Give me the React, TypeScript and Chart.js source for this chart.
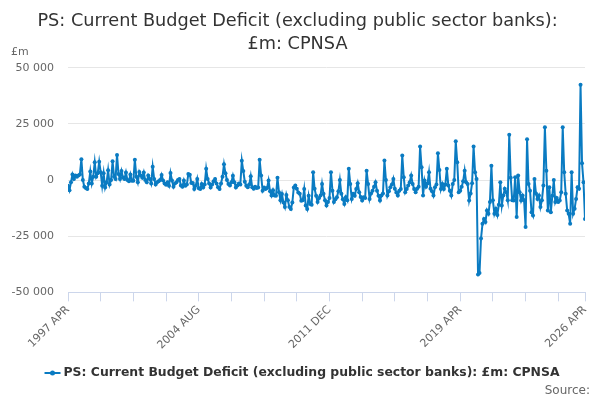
import React, { useEffect, useRef } from 'react';
import { Chart, registerables } from 'chart.js';

Chart.register(...registerables);

// Monthly values (£m), fiscal years April..March
const fy1997 = [-2500, -4500, -1000, 2500, 500, 2000, 1500, 2000, 2500, 9300, 0, -3000];
const fy1998 = [-3500, -4000, -1500, 3800, -1500, 1500, 7900, 1500, 3000, 8200, 3500, -2500];
const fy1999 = [3000, -3300, -1000, 4400, -2000, 0, 8400, 1500, 500, 11200, 2700, 500];
const fy2000 = [4000, 1200, 500, 3400, 0, -500, 2500, -300, -300, 9100, 1500, -1000];
const fy2001 = [3600, 2000, 1000, 3400, 0, -1000, 2000, 500, -1500, 5900, 500, -2000];
const fy2002 = [-1000, -500, 0, 2300, -200, -1500, -2100, -1000, -2500, 3100, -200, -3000];
const fy2003 = [-1500, -1000, 0, 500, -2400, -3000, -200, -2500, -2000, 2700, 2400, -1300];
const fy2004 = [-1300, -4000, -2500, 500, -3600, -4000, -1700, -3300, -2000, 5000, 500, -1500];
const fy2005 = [-3300, -2000, -500, 500, -1500, -3200, -4000, -1500, 1500, 7000, 3000, 0];
const fy2006 = [-1800, -2400, -1000, 1900, -1000, -3300, -2400, -1500, -2000, 8600, 4000, -700];
const fy2007 = [-2500, -3200, -2000, 1700, -3200, -3900, -3000, -3500, -3300, 9100, 2000, -4700];
const fy2008 = [-3300, -4000, -3500, -200, -5000, -6900, -4500, -6900, -7000, 1000, -5400, -9000];
const fy2009 = [-6200, -10000, -12000, -6600, -9000, -12000, -12900, -10000, -3300, -2400, -3900, -5500];
const fy2010 = [-6100, -9200, -9000, -4000, -11300, -12900, -7000, -10600, -11000, 3500, -3900, -7000];
const fy2011 = [-9800, -8000, -6900, -1700, -6100, -9000, -11300, -9800, -8000, 3500, -4700, -9800];
const fy2012 = [-8500, -7600, -5000, 0, -6100, -8500, -10600, -7600, -9000, 5000, -1700, -8400];
const fy2013 = [-6100, -7000, -4000, -1400, -5400, -7500, -9100, -7600, -8000, 4200, -1700, -8400];
const fy2014 = [-6000, -4700, -3000, -1000, -4700, -7000, -9100, -6900, -6000, 8700, 0, -6900];
const fy2015 = [-5000, -3200, -2000, 500, -3900, -5500, -6900, -4700, -4000, 10900, 1300, -5400];
const fy2016 = [-4000, -2400, -1000, 2000, -1700, -4000, -5400, -3900, -3000, 14900, 5700, -6900];
const fy2017 = [-200, -3000, -1500, 3500, -3900, -5000, -6900, -3200, -2000, 11900, 4500, -4000];
const fy2018 = [-1700, -4000, -2000, 5000, -2400, -4700, -6900, -1700, 0, 17300, 7900, -5400];
const fy2019 = [-4700, -3000, -500, 4200, -1000, -1700, -9100, -6000, -1400, 14900, 3500, 500];
const fy2020 = [-42000, -41400, -26000, -19500, -17300, -18700, -13600, -15000, -9800, 6400, -9000, -15000];
const fy2021 = [-12800, -15500, -11000, -1000, -11300, -6900, -3900, -5400, -9000, 20200, 1000, -9000];
const fy2022 = [-9100, 1300, -16400, 2000, -5400, -9100, -6900, -9000, -20900, 18200, -1700, -4700];
const fy2023 = [-14300, -15800, 500, -6000, -8400, -6900, -12000, -9000, -2400, 23500, 4200, -13500];
const fy2024 = [-3200, -14300, -7000, 0, -9800, -8000, -9800, -9100, -5400, 23500, 3500, -6100];
const fy2025 = [-13500, -15000, -19500, 3500, -15000, -12800, -8400, -3200, -3900, 42400, 7500, -1000];
const apr2026 = [-17300];

const values: number[] = [
  ...fy1997, ...fy1998, ...fy1999, ...fy2000, ...fy2001, ...fy2002, ...fy2003, ...fy2004,
  ...fy2005, ...fy2006, ...fy2007, ...fy2008, ...fy2009, ...fy2010, ...fy2011, ...fy2012,
  ...fy2013, ...fy2014, ...fy2015, ...fy2016, ...fy2017, ...fy2018, ...fy2019, ...fy2020,
  ...fy2021, ...fy2022, ...fy2023, ...fy2024, ...fy2025, ...apr2026,
];

const MONTHS = ['JAN', 'FEB', 'MAR', 'APR', 'MAY', 'JUN', 'JUL', 'AUG', 'SEP', 'OCT', 'NOV', 'DEC'];
const categories: string[] = values.map((_, i) => {
  const m = 3 + i;
  return `${1997 + Math.floor(m / 12)} ${MONTHS[m % 12]}`;
});

const tickLabels = ['1997 APR', '2004 AUG', '2011 DEC', '2019 APR', '2026 APR'];
const tickStep = 22;

const seriesName = 'PS: Current Budget Deficit (excluding public sector banks): £m: CPNSA';
const titleLines = ['PS: Current Budget Deficit (excluding public sector banks):', '£m: CPNSA'];

const FONT = '"DejaVu Sans", sans-serif';
const BLUE = '#0a7bc2';

const fmt = (v: number) => {
  const s = Math.abs(v).toString().replace(/\B(?=(\d{3})+(?!\d))/g, ' ');
  return (v < 0 ? '-' : '') + s;
};

export default function App() {
  const ref = useRef<HTMLCanvasElement | null>(null);

  useEffect(() => {
    if (!ref.current) return;
    const last = values.length - 1;
    const tickPositions: number[] = [];
    for (let i = 0; i < last; i += tickStep) tickPositions.push(i);
    tickPositions.push(last);

    const extras = {
      id: 'extras',
      afterDraw(chart: any) {
        const ctx = chart.ctx;
        ctx.save();
        ctx.fillStyle = '#666';
        ctx.font = `11px ${FONT}`;
        ctx.textAlign = 'left';
        ctx.textBaseline = 'middle';
        ctx.fillText('£m', 11, 52);

        // legend
        ctx.font = `bold 12.4px ${FONT}`;
        const tw = ctx.measureText(seriesName).width;
        const sw = 16;
        const total = sw + 3 + tw;
        const x0 = 302 - total / 2;
        const ly = 373;
        ctx.strokeStyle = BLUE;
        ctx.lineWidth = 2;
        ctx.beginPath();
        ctx.moveTo(x0, ly);
        ctx.lineTo(x0 + sw, ly);
        ctx.stroke();
        ctx.fillStyle = BLUE;
        ctx.beginPath();
        ctx.arc(x0 + sw / 2, ly, 2.5, 0, Math.PI * 2);
        ctx.fill();
        ctx.fillStyle = '#333';
        ctx.fillText(seriesName, x0 + sw + 3, ly);

        ctx.font = `12px ${FONT}`;
        ctx.fillStyle = '#666';
        ctx.textAlign = 'right';
        ctx.fillText('Source:', 590, 391);
        ctx.restore();
      },
    };

    const chart = new Chart(ref.current, {
      type: 'line',
      data: {
        labels: categories,
        datasets: [
          {
            label: seriesName,
            data: values.map((v, i) => ({ x: i, y: v })),
            borderColor: BLUE,
            backgroundColor: BLUE,
            borderWidth: 2,
            pointRadius: 2,
            pointBorderWidth: 0,
            pointBackgroundColor: BLUE,
            tension: 0,
          },
        ],
      },
      options: {
        responsive: false,
        animation: false,
        layout: { padding: { left: 10, right: 15, top: 0, bottom: 46 } },
        plugins: {
          legend: { display: false },
          tooltip: { enabled: false },
          title: {
            display: true,
            text: titleLines,
            color: '#333',
            font: { family: FONT, size: 17.7, weight: 'normal', lineHeight: 1.35 },
            padding: { top: 9, bottom: 11 },
          },
        },
        scales: {
          x: {
            type: 'linear',
            min: 0,
            max: last,
            afterBuildTicks: (axis: any) => {
              axis.ticks = tickPositions.map((v) => ({ value: v }));
            },
            afterFit: (axis: any) => {
              axis.paddingLeft = 0;
              axis.paddingRight = 0;
            },
            ticks: {
              autoSkip: false,
              minRotation: 45,
              maxRotation: 45,
              color: '#666',
              font: { family: FONT, size: 11 },
              padding: 2,
              callback: (v: any) => {
                const idx = Number(v);
                const label = categories[idx];
                return tickLabels.includes(label) ? label : '';
              },
            },
            grid: {
              drawOnChartArea: false,
              drawTicks: true,
              tickLength: 9,
              color: '#ccd6eb',
            },
            border: { display: true, color: '#ccd6eb' },
          },
          y: {
            min: -50000,
            max: 50000,
            afterFit: (axis: any) => {
              axis.width = 58;
            },
            ticks: {
              stepSize: 25000,
              color: '#666',
              font: { family: FONT, size: 11 },
              padding: 14,
              callback: (v: any) => fmt(Number(v)),
            },
            grid: { color: '#e6e6e6', drawTicks: false },
            border: { display: false },
          },
        },
      },
      plugins: [extras],
    } as any);

    return () => chart.destroy();
  }, []);

  return (
    <div style={{ position: 'fixed', left: 0, top: 0, width: 600, height: 400, background: '#fff' }}>
      <canvas ref={ref} width={600} height={400} style={{ width: 600, height: 400 }} />
    </div>
  );
}
